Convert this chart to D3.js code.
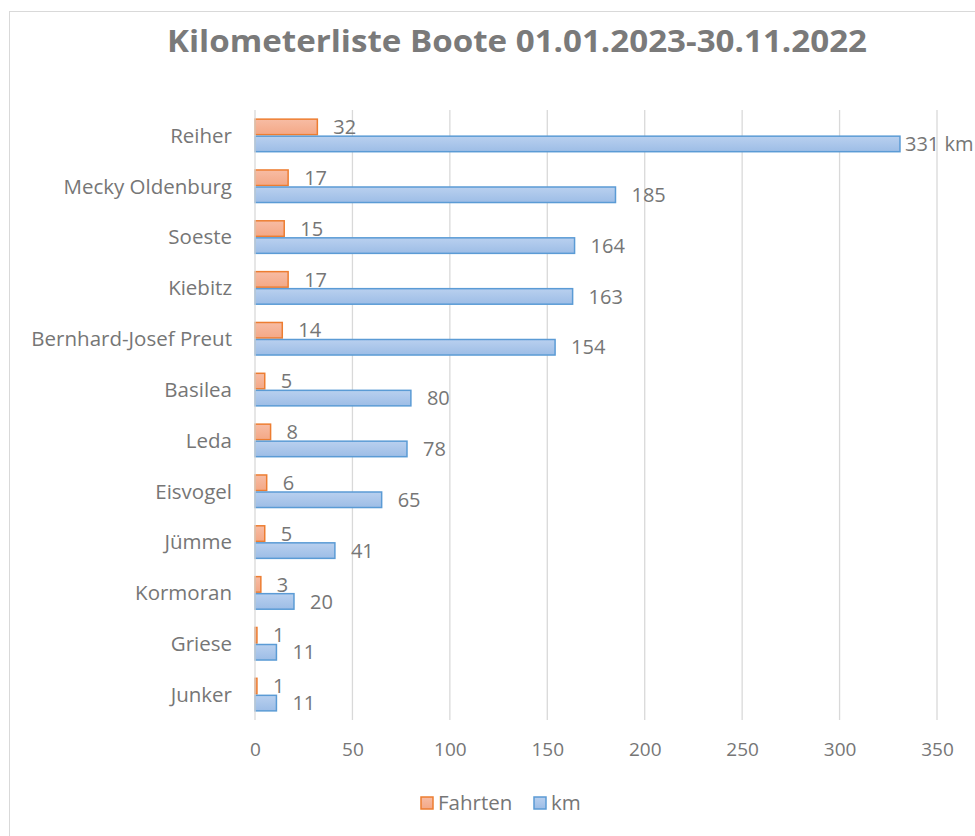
<!DOCTYPE html>
<html>
<head>
<meta charset="utf-8">
<script src="https://cdn.jsdelivr.net/npm/d3@7"></script>
<style>
  body { margin: 0; background: #fff; }
  text { font-family: "Open Sans", "Liberation Sans", sans-serif; fill: #767676; }
</style>
</head>
<body>
<div id="chart"></div>
<script>
const boats = ['Reiher', 'Mecky Oldenburg', 'Soeste', 'Kiebitz', 'Bernhard-Josef Preut',
  'Basilea', 'Leda', 'Eisvogel', 'Jümme', 'Kormoran', 'Griese', 'Junker'];
const fahrten = [32, 17, 15, 17, 14, 5, 8, 6, 5, 3, 1, 1];
const km = [331, 185, 164, 163, 154, 80, 78, 65, 41, 20, 11, 11];
const xTicks = [0, 50, 100, 150, 200, 250, 300, 350];
const seriesNames = ['Fahrten', 'km'];

const W = 975, H = 836;
const margin = { left: 255, right: 38, top: 110, bottom: 116 };
const ORANGE = '#ed7d31', BLUE = '#5b9bd5';

const svg = d3.select('#chart').append('svg').attr('width', W).attr('height', H);

const defs = svg.append('defs');
const grad = (id, c1, c2) => {
  const g = defs.append('linearGradient').attr('id', id)
    .attr('x1', 0).attr('y1', 0).attr('x2', 0).attr('y2', 1);
  g.append('stop').attr('offset', '0%').attr('stop-color', c1);
  g.append('stop').attr('offset', '100%').attr('stop-color', c2);
};
grad('gO', '#f7bca4', '#f4a886');
grad('gB', '#b9d0ef', '#9dbde6');

// chart frame
svg.append('rect').attr('x', 9.5).attr('y', 11.5).attr('width', W).attr('height', H)
  .attr('fill', 'none').attr('stroke', '#d9d9d9');

svg.append('text').attr('x', 517).attr('y', 52).attr('text-anchor', 'middle')
  .style('font-size', '30px').style('font-weight', 'bold').style('fill', '#7a7a7a')
  .attr('textLength', 700).attr('lengthAdjust', 'spacingAndGlyphs')
  .text('Kilometerliste Boote 01.01.2023-30.11.2022');

const x = d3.scaleLinear().domain([0, 350]).range([margin.left, W - margin.right]);
const y = d3.scaleBand().domain(boats).range([margin.top, H - margin.bottom]).paddingInner(0.33).paddingOuter(0.165);
const sub = d3.scaleBand().domain(seriesNames).range([0, y.bandwidth()]);

// gridlines
svg.append('g').selectAll('line').data(xTicks.slice(1)).join('line')
  .attr('x1', d => x(d)).attr('x2', d => x(d))
  .attr('y1', margin.top).attr('y2', H - margin.bottom)
  .attr('stroke', '#d9d9d9').attr('stroke-width', 1.3);

// x axis labels
const xAxis = svg.append('g').attr('transform', `translate(0,${H - margin.bottom})`)
  .call(d3.axisBottom(x).tickValues(xTicks).tickSize(0).tickPadding(23));
xAxis.select('.domain').remove();
xAxis.selectAll('text').style('font-size', '19px').style('fill', '#767676');

// category labels
const yAxis = svg.append('g').attr('transform', `translate(${margin.left},0)`)
  .call(d3.axisLeft(y).tickSize(0).tickPadding(23));
yAxis.select('.domain').remove();
yAxis.selectAll('text').style('font-size', '20.5px').style('fill', '#767676')
  .attr('dy', '0.36em');

const rows = boats.map((b, i) => ({ b, i, f: fahrten[i], k: km[i] }));

// bars
svg.append('g').selectAll('rect').data(rows).join('rect')
  .attr('x', x(0)).attr('y', d => y(d.b) + sub('Fahrten') + 0.75)
  .attr('width', d => x(d.f) - x(0)).attr('height', sub.bandwidth() - 1.5)
  .attr('fill', 'url(#gO)').attr('stroke', ORANGE).attr('stroke-width', 1.5);
svg.append('g').selectAll('rect').data(rows).join('rect')
  .attr('x', x(0)).attr('y', d => y(d.b) + sub('km') + 0.75)
  .attr('width', d => x(d.k) - x(0)).attr('height', sub.bandwidth() - 1.5)
  .attr('fill', 'url(#gB)').attr('stroke', BLUE).attr('stroke-width', 1.5);

// y axis line
svg.append('line').attr('x1', x(0)).attr('x2', x(0))
  .attr('y1', margin.top).attr('y2', H - margin.bottom)
  .attr('stroke', '#d9d9d9').attr('stroke-width', 1.3);

// data labels
svg.append('g').selectAll('text').data(rows).join('text')
  .attr('x', d => x(d.f) + 16)
  .attr('y', d => y(d.b) + sub('Fahrten') + sub.bandwidth() / 2)
  .attr('dy', '0.36em').style('font-size', '20px')
  .text(d => d.f);
svg.append('g').selectAll('text').data(rows).join('text')
  .attr('x', d => x(d.k) + (d.i === 0 ? 5 : 16))
  .attr('y', d => y(d.b) + sub('km') + sub.bandwidth() / 2)
  .attr('dy', '0.36em').style('font-size', '20px')
  .text(d => d.i === 0 ? `${d.k} km` : d.k);

// legend
const leg = svg.append('g').attr('transform', 'translate(421,803)');
[['Fahrten', 'url(#gO)', ORANGE, 0], ['km', 'url(#gB)', BLUE, 113]].forEach(([n, f, s, dx]) => {
  leg.append('rect').attr('x', dx).attr('y', -6).attr('width', 12).attr('height', 12)
    .attr('fill', f).attr('stroke', s).attr('stroke-width', 1.5);
  leg.append('text').attr('x', dx + 17).attr('y', 0).attr('dy', '0.35em')
    .style('font-size', '20.5px').text(n);
});
</script>
</body>
</html>
